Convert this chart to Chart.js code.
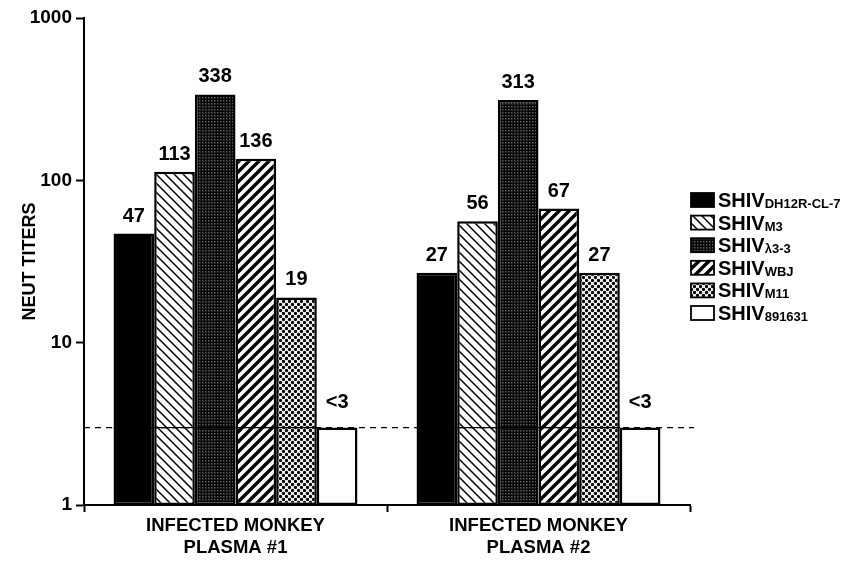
<!DOCTYPE html>
<html>
<head>
<meta charset="utf-8">
<script src="https://cdn.jsdelivr.net/npm/chart.js@4/dist/chart.umd.min.js"></script>
<style>
  html, body { margin: 0; padding: 0; background: #fff; }
  #wrap { width: 847px; height: 561px; }
</style>
</head>
<body>
<div id="wrap"><canvas id="titerChart" width="847" height="561"></canvas></div>
<script>
// Chart data
const categories = [['INFECTED MONKEY', 'PLASMA #1'], ['INFECTED MONKEY', 'PLASMA #2']];
const virusSubscripts = ['DH12R-CL-7', 'M3', 'λ3-3', 'WBJ', 'M11', '891631'];
const dh12rTiters = [47, 27];
const m3Titers = [113, 56];
const lambdaTiters = [338, 313];
const wbjTiters = [136, 67];
const m11Titers = [19, 27];
const s891631Titers = [3, 3];
const valueLabels = [
    ['47', '27'],
    ['113', '56'],
    ['338', '313'],
    ['136', '67'],
    ['19', '27'],
    ['<3', '<3']
];
const yTickValues = [1, 10, 100, 1000];
const cutoffTiter = 3;

const FONT = "'Liberation Sans', Arial, Helvetica, sans-serif";

// Build a repeating fill pattern from a small tile
function makePattern(w, h, draw) {
    const c = document.createElement('canvas');
    c.width = w;
    c.height = h;
    const g = c.getContext('2d');
    draw(g, w, h);
    return g.createPattern(c, 'repeat');
}

const solidBlack = '#000';

const backslashPattern = makePattern(9, 9, (g, w, h) => {
    g.fillStyle = '#fff';
    g.fillRect(0, 0, w, h);
    g.strokeStyle = '#000';
    g.lineWidth = 1.5;
    g.beginPath();
    g.moveTo(-w, -h); g.lineTo(2 * w, 2 * h);
    g.moveTo(-w, 0); g.lineTo(w, 2 * h);
    g.moveTo(0, -h); g.lineTo(2 * w, h);
    g.stroke();
});

const densePattern = makePattern(3, 3, (g, w, h) => {
    g.fillStyle = '#2a2a2a';
    g.fillRect(0, 0, w, h);
    g.fillStyle = '#050505';
    g.fillRect(0, 0, w, 1);
    g.fillRect(0, 0, 1, h);
    g.fillStyle = '#606060';
    g.fillRect(1, 1, 1, 1);
});

const slashPattern = makePattern(10, 10, (g, w, h) => {
    g.fillStyle = '#fff';
    g.fillRect(0, 0, w, h);
    g.strokeStyle = '#000';
    g.lineWidth = 3.4;
    g.beginPath();
    g.moveTo(-w, 2 * h); g.lineTo(2 * w, -h);
    g.moveTo(-w, h); g.lineTo(w, -h);
    g.moveTo(0, 2 * h); g.lineTo(2 * w, 0);
    g.stroke();
});

const dotPattern = makePattern(6, 6, (g, w, h) => {
    g.fillStyle = '#fff';
    g.fillRect(0, 0, w, h);
    g.fillStyle = '#000';
    const dots = [[1.5, 1.5], [4.5, 4.5], [7.5, 1.5], [-1.5, 4.5], [1.5, 7.5], [4.5, -1.5], [-1.5, -1.5], [7.5, 7.5]];
    dots.forEach(([x, y]) => {
        g.beginPath();
        g.arc(x, y, 1.65, 0, Math.PI * 2);
        g.fill();
    });
});

const fills = [solidBlack, backslashPattern, densePattern, slashPattern, dotPattern, '#fff'];
const seriesValues = [dh12rTiters, m3Titers, lambdaTiters, wbjTiters, m11Titers, s891631Titers];

const datasets = seriesValues.map((vals, i) => ({
    label: 'SHIV' + virusSubscripts[i],
    data: vals,
    backgroundColor: fills[i],
    borderColor: '#000',
    borderWidth: 2.5,
    borderSkipped: false,
    categoryPercentage: 0.805,
    barPercentage: 1.0
}));

// Dashed cutoff line and value labels above bars
const annotatePlugin = {
    id: 'annotate',
    afterDatasetsDraw(chart) {
        const ctx = chart.ctx;
        const area = chart.chartArea;
        const yCut = chart.scales.y.getPixelForValue(cutoffTiter);
        ctx.save();
        ctx.strokeStyle = '#000';
        ctx.lineWidth = 1.2;
        ctx.setLineDash([6, 5]);
        ctx.beginPath();
        ctx.moveTo(area.left, yCut);
        ctx.lineTo(area.right + 4, yCut);
        ctx.stroke();
        // solid where it crosses the bars
        ctx.setLineDash([]);
        chart.data.datasets.forEach((ds, di) => {
            chart.getDatasetMeta(di).data.forEach(bar => {
                if (bar.y < yCut) {
                    ctx.beginPath();
                    ctx.moveTo(bar.x - bar.width / 2, yCut);
                    ctx.lineTo(bar.x + bar.width / 2, yCut);
                    ctx.stroke();
                }
            });
        });

        ctx.fillStyle = '#000';
        ctx.font = 'bold 20px ' + FONT;
        ctx.textAlign = 'center';
        ctx.textBaseline = 'alphabetic';
        chart.data.datasets.forEach((ds, di) => {
            chart.getDatasetMeta(di).data.forEach((bar, i) => {
                const extra = di === 5 ? 20 : 12;
                ctx.fillText(valueLabels[di][i], bar.x, bar.y - extra);
            });
        });
        ctx.restore();
    }
};

// Legend with subscripted names
const legendPlugin = {
    id: 'subLegend',
    afterDraw(chart) {
        const ctx = chart.ctx;
        const x0 = 691;
        const y0 = 200;
        const step = 22.6;
        ctx.save();
        chart.data.datasets.forEach((ds, i) => {
            const yc = y0 + i * step;
            ctx.fillStyle = ds.backgroundColor;
            ctx.fillRect(x0, yc - 7, 23, 14);
            ctx.strokeStyle = '#000';
            ctx.lineWidth = 1.8;
            ctx.strokeRect(x0, yc - 7, 23, 14);
            ctx.fillStyle = '#000';
            ctx.textAlign = 'left';
            ctx.textBaseline = 'alphabetic';
            ctx.font = 'bold 20px ' + FONT;
            ctx.fillText('SHIV', x0 + 27, yc + 7);
            const w = ctx.measureText('SHIV').width;
            ctx.font = 'bold 13px ' + FONT;
            ctx.fillText(virusSubscripts[i], x0 + 27 + w, yc + 8);
        });
        ctx.restore();
    }
};

new Chart(document.getElementById('titerChart').getContext('2d'), {
    type: 'bar',
    data: { labels: categories, datasets: datasets },
    options: {
        responsive: false,
        animation: false,
        devicePixelRatio: 1,
        layout: { padding: { left: 0, right: 157, top: 18, bottom: 0 } },
        plugins: {
            legend: { display: false },
            tooltip: { enabled: false }
        },
        scales: {
            x: {
                offset: true,
                grid: {
                    offset: true,
                    drawOnChartArea: false,
                    drawTicks: true,
                    tickLength: 7,
                    tickWidth: 2,
                    color: '#000'
                },
                border: { display: true, color: '#000', width: 2 },
                ticks: {
                    color: '#000',
                    padding: 3,
                    maxRotation: 0,
                    font: { family: FONT, size: 18.5, weight: 'bold', lineHeight: 1.2 }
                },
                afterFit(scale) { scale.height = 56; }
            },
            y: {
                type: 'logarithmic',
                min: 1,
                max: 1000,
                afterBuildTicks(scale) {
                    scale.ticks = yTickValues.map(v => ({ value: v }));
                },
                grid: {
                    drawOnChartArea: false,
                    drawTicks: true,
                    tickLength: 8,
                    tickWidth: 2,
                    color: '#000'
                },
                border: { display: true, color: '#000', width: 2 },
                ticks: {
                    color: '#000',
                    padding: 4,
                    font: { family: FONT, size: 19, weight: 'bold' },
                    callback: v => String(v)
                },
                title: {
                    display: true,
                    text: 'NEUT TITERS',
                    color: '#000',
                    font: { family: FONT, size: 18, weight: 'bold' },
                    padding: { top: 19, bottom: 0 }
                },
                afterFit(scale) { scale.width = 84; }
            }
        }
    },
    plugins: [annotatePlugin, legendPlugin]
});
</script>
</body>
</html>
